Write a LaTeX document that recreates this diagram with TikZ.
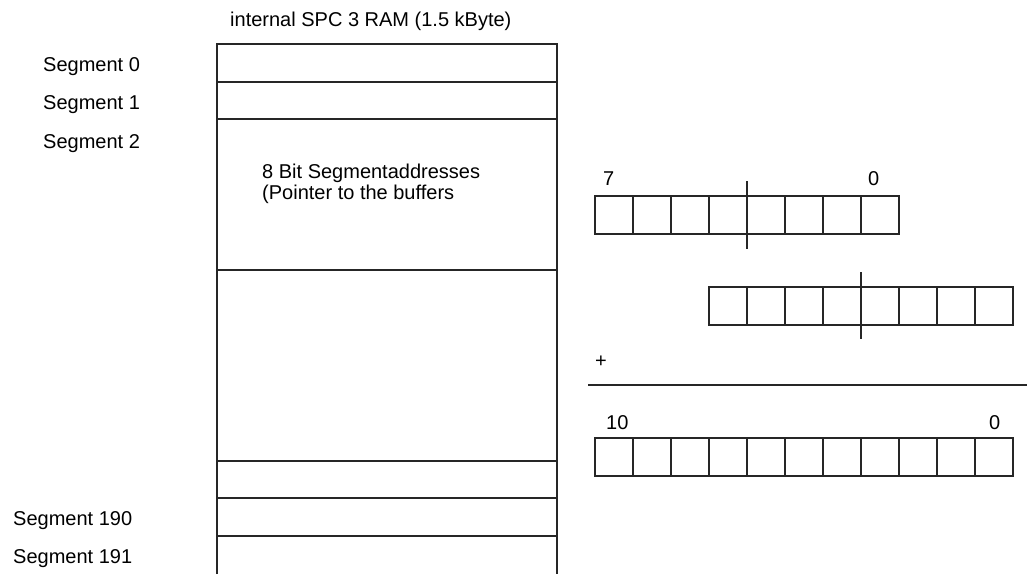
\documentclass[tikz,border=0pt]{standalone}
\usepackage{fontspec}
\setmainfont{Liberation Sans}
\begin{document}
\begin{tikzpicture}[x=1pt,y=-1pt,
  ln/.style={line width=1.1pt,draw=black!85},
  lbl/.style={inner sep=0pt,anchor=base west,font=\fontsize{20}{24}\selectfont}]
\useasboundingbox (0,0) rectangle (1027,574);
% title
\node[lbl] (title) at (230,26) {internal SPC 3 RAM (1.5 kByte)};
% RAM box
\draw[ln] (217,574) -- (217,44) -- (557,44) -- (557,574);
\foreach \yy in {82,119,270,461,498,536} \draw[ln] (217,\yy) -- (557,\yy);
\node[lbl] (txa) at (262,178) {8 Bit Segmentaddresses};
\node[lbl] (txb) at (262,199) {(Pointer to the buffers};
% segment labels
\node[lbl] (s0) at (43,71) {Segment 0};
\node[lbl] (s1) at (43,109) {Segment 1};
\node[lbl] (s2) at (43,148) {Segment 2};
\node[lbl] (s190) at (13,525) {Segment 190};
\node[lbl] (s191) at (13,563) {Segment 191};
% register 1
\foreach \i in {0,...,7} \draw[ln] (595+38*\i,196) rectangle (633+38*\i,234);
\draw[ln] (747,181) -- (747,249);
\node[lbl] (r1a) at (603,185) {7};
\node[lbl] (r1b) at (868,185) {0};
% register 2
\foreach \i in {0,...,7} \draw[ln] (709+38*\i,287) rectangle (747+38*\i,325);
\draw[ln] (861,272) -- (861,339);
% plus and sum line
\node[inner sep=0pt,font=\fontsize{20}{24}\selectfont] (plus) at (601,362) {+};
\draw[ln] (588,385) -- (1027,385);
% register 3
\node[lbl] (r3a) at (606,429) {10};
\node[lbl] (r3b) at (989,429) {0};
\foreach \i in {0,...,10} \draw[ln] (595+38*\i,438) rectangle (633+38*\i,476);
\end{tikzpicture}
\end{document}
